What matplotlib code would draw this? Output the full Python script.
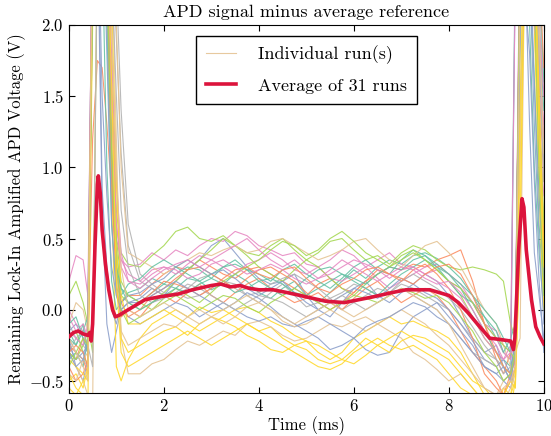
"""
APD signal minus average reference: 31 individual runs plus their average.
"""

import numpy as np
import matplotlib
matplotlib.use("Agg")
import matplotlib.pyplot as plt


# time grid (ms), split into pieces so every run row is easy to check
T_EARLY = [0.0, 0.15, 0.3, 0.4]
T_SPIKE1 = [0.5, 0.6, 0.7, 0.8, 0.9, 1.0, 1.1, 1.25]
T_MIDDLE = [1.5, 1.75, 2.0, 2.25, 2.5, 2.75, 3.0, 3.25, 3.5, 3.75,
            4.0, 4.25, 4.5, 4.75, 5.0, 5.25, 5.5, 5.75, 6.0, 6.25,
            6.5, 6.75, 7.0, 7.25, 7.5, 7.75, 8.0, 8.25, 8.5, 8.75]
T_SPIKE2 = [9.0, 9.15, 9.3, 9.4, 9.5, 9.6, 9.7, 9.8, 9.9, 10.0]

# individual runs (V), one row per run
RUNS_EARLY = [
    [-0.15, -0.25, -0.1, -0.3],
    [-0.3, -0.35, -0.2, -0.25],
    [-0.2, -0.4, -0.5, -0.35],
    [0.2, 0.38, 0.35, 0.1],
    [0.1, 0.2, 0.05, -0.1],
    [-0.45, -0.55, -0.6, -0.7],
    [-0.3, -0.4, -0.5, -0.6],
    [-0.1, -0.2, -0.25, -0.3],
    [-0.35, -0.3, -0.4, -0.2],
    [-0.25, -0.3, -0.35, -0.45],
    [-0.15, -0.1, -0.2, -0.3],
    [0.0, -0.1, -0.15, -0.2],
    [-0.2, -0.15, -0.3, -0.4],
    [-0.5, -0.45, -0.55, -0.4],
    [-0.1, 0.05, 0.0, -0.15],
    [-0.3, -0.2, -0.15, -0.25],
    [-0.2, -0.25, -0.15, -0.05],
    [-0.4, -0.5, -0.45, -0.35],
    [-0.25, -0.35, -0.3, -0.25],
    [-0.05, -0.15, -0.1, -0.2],
    [-0.3, -0.35, -0.25, -0.15],
    [-0.35, -0.4, -0.45, -0.5],
    [-0.45, -0.5, -0.35, -0.3],
    [-0.2, -0.3, -0.35, -0.4],
    [-0.1, -0.05, -0.2, -0.3],
    [-0.3, -0.25, -0.3, -0.4],
    [-0.3, -0.4, -0.35, -0.2],
    [-0.15, -0.2, -0.25, -0.1],
    [-0.4, -0.3, -0.2, -0.25],
    [-0.55, -0.6, -0.5, -0.45],
    [-0.2, -0.3, -0.4, -0.5],
]

RUNS_SPIKE1 = [
    [2.6, 3.0, 2.8, 2.2, 1.1, 0.4, 0.15, 0.1],
    [1.2, 1.75, 1.7, 1.3, 0.8, 0.3, 0.05, 0.1],
    [2.5, 2.8, 0.7, -0.1, -0.3, -0.15, 0.0, 0.05],
    [2.7, 3.0, 3.0, 2.4, 1.4, 0.6, 0.35, 0.3],
    [-0.3, 2.6, 3.0, 2.8, 1.6, 0.7, 0.4, 0.32],
    [2.6, 3.0, 2.9, 2.5, 0.8, -0.4, -0.5, -0.35],
    [-0.7, 2.8, 3.0, 3.0, 2.5, 1.2, -0.2, -0.45],
    [2.4, 3.0, 3.0, 3.0, 2.6, 1.9, 1.1, 0.45],
    [2.2, 3.0, 2.6, 1.0, 0.2, 0.0, 0.05, 0.12],
    [2.8, 3.0, 3.0, 2.4, 0.9, 0.2, -0.05, 0.0],
    [2.5, 3.0, 1.5, 0.8, 0.3, 0.1, 0.0, -0.05],
    [2.9, 3.0, 3.0, 2.2, 1.0, 0.5, 0.35, 0.25],
    [2.5, 3.0, 3.0, 2.7, 1.5, 0.4, 0.1, 0.05],
    [2.0, 3.0, 3.0, 2.8, 2.0, 0.5, -0.2, -0.3],
    [2.7, 3.0, 3.0, 3.0, 2.8, 2.0, 1.0, 0.4],
    [-0.4, 2.5, 3.0, 3.0, 2.8, 2.3, 1.4, 0.6],
    [2.8, 3.0, 3.0, 2.0, 0.6, 0.15, 0.1, 0.18],
    [2.6, 3.0, 3.0, 2.6, 1.2, 0.3, 0.05, -0.05],
    [2.4, 3.0, 0.85, 0.3, 0.0, -0.1, 0.05, 0.1],
    [2.6, 3.0, 3.0, 2.6, 1.8, 0.9, 0.4, 0.2],
    [2.5, 3.0, 3.0, 2.3, 1.2, 0.5, 0.2, 0.1],
    [2.3, 3.0, 3.0, 2.9, 2.2, 0.9, 0.1, -0.1],
    [2.6, 3.0, 3.0, 2.6, 1.4, 0.3, -0.15, -0.25],
    [2.5, 3.0, 3.0, 3.0, 2.4, 1.5, 0.7, 0.3],
    [2.2, 3.0, 3.0, 2.5, 1.0, 0.3, 0.15, 0.05],
    [2.7, 3.0, 3.0, 2.5, 1.0, 0.15, -0.05, 0.0],
    [2.6, 3.0, 3.0, 1.8, 0.6, 0.1, 0.0, 0.05],
    [2.9, 3.0, 3.0, 2.6, 1.5, 0.6, 0.3, 0.2],
    [2.4, 3.0, 3.0, 2.4, 1.1, 0.3, 0.0, -0.1],
    [2.5, 3.0, 3.0, 2.7, 1.6, 0.2, -0.3, -0.4],
    [2.8, 3.0, 3.0, 2.8, 2.0, 1.0, 0.3, 0.0],
]

RUNS_MIDDLE = [
    [0.05, 0.12, 0.18, 0.15, 0.22, 0.2, 0.14, 0.18, 0.25, 0.2, 0.12, 0.08, 0.15, 0.2, 0.1,
     0.05, 0.12, 0.2, 0.28, 0.22, 0.3, 0.35, 0.32, 0.38, 0.4, 0.36, 0.3, 0.22, 0.1, -0.05],
    [0.1, 0.18, 0.25, 0.3, 0.28, 0.35, 0.3, 0.25, 0.22, 0.28, 0.3, 0.25, 0.2, 0.15, 0.1,
     0.18, 0.22, 0.15, 0.12, 0.2, 0.25, 0.3, 0.28, 0.32, 0.3, 0.35, 0.38, 0.42, 0.2, -0.1],
    [0.08, 0.15, 0.1, 0.2, 0.28, 0.35, 0.45, 0.5, 0.4, 0.3, 0.22, 0.18, 0.2, 0.25, 0.1,
     0.0, -0.05, 0.05, 0.15, 0.2, 0.1, 0.05, 0.12, 0.18, 0.25, 0.2, 0.1, -0.05, -0.2, -0.3],
    [0.32, 0.4, 0.35, 0.42, 0.38, 0.45, 0.5, 0.48, 0.55, 0.52, 0.45, 0.42, 0.38, 0.4, 0.32,
     0.3, 0.35, 0.42, 0.38, 0.3, 0.35, 0.4, 0.32, 0.3, 0.25, 0.28, 0.2, 0.15, 0.05, -0.1],
    [0.3, 0.38, 0.45, 0.55, 0.58, 0.5, 0.48, 0.52, 0.45, 0.4, 0.38, 0.45, 0.5, 0.42, 0.35,
     0.4, 0.48, 0.5, 0.42, 0.35, 0.38, 0.32, 0.4, 0.45, 0.42, 0.35, 0.3, 0.28, 0.3, 0.28],
    [-0.2, -0.1, -0.05, 0.0, -0.05, 0.02, -0.02, 0.0, -0.05, -0.1, -0.15, -0.12, -0.2, -0.25, -0.22,
     -0.3, -0.35, -0.3, -0.2, -0.15, -0.1, -0.05, -0.1, -0.08, -0.12, -0.15, -0.2, -0.3, -0.45, -0.6],
    [-0.45, -0.38, -0.35, -0.28, -0.22, -0.25, -0.2, -0.15, -0.18, -0.1, -0.08, -0.12, -0.18, -0.22, -0.2,
     -0.15, -0.1, -0.12, -0.08, -0.05, -0.1, -0.15, -0.2, -0.3, -0.35, -0.42, -0.5, -0.45, -0.55, -0.65],
    [0.2, 0.15, 0.1, 0.12, 0.08, 0.1, 0.15, 0.2, 0.18, 0.1, 0.05, 0.12, 0.18, 0.1, 0.02,
     0.05, 0.08, 0.0, 0.05, 0.1, 0.15, 0.12, 0.18, 0.15, 0.1, 0.05, 0.0, -0.1, -0.2, -0.3],
    [0.15, 0.22, 0.18, 0.25, 0.3, 0.28, 0.22, 0.3, 0.35, 0.28, 0.25, 0.2, 0.28, 0.32, 0.25,
     0.2, 0.15, 0.22, 0.3, 0.35, 0.28, 0.25, 0.35, 0.42, 0.38, 0.3, 0.25, 0.15, 0.0, -0.15],
    [-0.05, 0.05, 0.1, 0.05, 0.12, 0.18, 0.1, 0.05, 0.12, 0.18, 0.22, 0.15, 0.1, 0.05, 0.08,
     0.12, 0.05, 0.0, 0.08, 0.15, 0.2, 0.12, 0.05, 0.1, 0.15, 0.1, 0.0, -0.15, -0.3, -0.4],
    [-0.1, -0.05, 0.0, 0.05, 0.02, -0.05, 0.0, 0.05, 0.0, -0.05, -0.08, -0.05, -0.1, -0.12, -0.08,
     -0.05, -0.1, -0.15, -0.2, -0.28, -0.32, -0.3, -0.15, -0.05, 0.0, 0.05, -0.05, -0.15, -0.25, -0.4],
    [0.2, 0.28, 0.3, 0.25, 0.32, 0.38, 0.35, 0.3, 0.25, 0.32, 0.35, 0.4, 0.35, 0.28, 0.25,
     0.3, 0.22, 0.2, 0.25, 0.3, 0.22, 0.15, 0.2, 0.25, 0.3, 0.32, 0.25, 0.18, 0.05, -0.1],
    [0.0, 0.05, 0.12, 0.2, 0.28, 0.35, 0.42, 0.5, 0.45, 0.38, 0.3, 0.25, 0.2, 0.28, 0.35,
     0.3, 0.22, 0.15, 0.1, 0.18, 0.25, 0.3, 0.38, 0.42, 0.35, 0.28, 0.2, 0.1, -0.05, -0.2],
    [-0.25, -0.2, -0.15, -0.12, -0.18, -0.1, -0.05, -0.08, -0.12, -0.18, -0.22, -0.28, -0.3, -0.25, -0.28,
     -0.35, -0.38, -0.35, -0.28, -0.2, -0.25, -0.3, -0.22, -0.18, -0.2, -0.25, -0.3, -0.4, -0.5, -0.55],
    [0.35, 0.3, 0.25, 0.3, 0.35, 0.4, 0.38, 0.42, 0.45, 0.4, 0.42, 0.48, 0.5, 0.45, 0.4,
     0.35, 0.38, 0.42, 0.48, 0.5, 0.42, 0.35, 0.3, 0.38, 0.45, 0.48, 0.4, 0.3, 0.15, 0.0],
    [0.25, 0.18, 0.12, 0.1, 0.15, 0.22, 0.25, 0.2, 0.15, 0.1, 0.12, 0.18, 0.22, 0.25, 0.2,
     0.15, 0.08, 0.12, 0.18, 0.15, 0.1, 0.12, 0.2, 0.25, 0.2, 0.15, 0.08, 0.0, -0.12, -0.25],
    [0.22, 0.3, 0.35, 0.3, 0.25, 0.2, 0.25, 0.3, 0.32, 0.28, 0.2, 0.15, 0.1, 0.15, 0.22,
     0.28, 0.3, 0.25, 0.2, 0.15, 0.1, 0.18, 0.25, 0.3, 0.35, 0.3, 0.2, 0.1, 0.05, -0.05],
    [0.0, 0.1, 0.15, 0.22, 0.28, 0.3, 0.25, 0.2, 0.15, 0.22, 0.28, 0.3, 0.25, 0.2, 0.12,
     0.05, 0.0, 0.05, 0.12, 0.2, 0.28, 0.25, 0.2, 0.28, 0.32, 0.25, 0.15, 0.0, -0.2, -0.45],
    [0.12, 0.18, 0.22, 0.3, 0.35, 0.3, 0.25, 0.28, 0.22, 0.15, 0.1, 0.15, 0.2, 0.12, 0.05,
     0.0, 0.05, 0.1, 0.15, 0.12, 0.08, 0.15, 0.22, 0.18, 0.12, 0.08, 0.0, -0.1, -0.22, -0.35],
    [0.15, 0.22, 0.28, 0.32, 0.35, 0.3, 0.35, 0.4, 0.45, 0.5, 0.42, 0.35, 0.3, 0.35, 0.28,
     0.22, 0.25, 0.3, 0.35, 0.32, 0.28, 0.22, 0.28, 0.3, 0.25, 0.2, 0.15, 0.08, -0.05, -0.2],
    [0.05, 0.0, 0.08, 0.15, 0.1, 0.05, 0.12, 0.2, 0.25, 0.3, 0.35, 0.42, 0.48, 0.45, 0.38,
     0.42, 0.5, 0.55, 0.48, 0.4, 0.35, 0.3, 0.35, 0.4, 0.35, 0.28, 0.2, 0.15, 0.05, -0.1],
    [-0.1, -0.05, 0.0, -0.05, -0.1, -0.15, -0.1, -0.05, 0.0, 0.02, -0.02, -0.08, -0.12, -0.18, -0.22,
     -0.25, -0.3, -0.35, -0.38, -0.32, -0.25, -0.2, -0.15, -0.2, -0.25, -0.3, -0.35, -0.45, -0.55, -0.65],
    [-0.2, -0.15, -0.1, -0.12, -0.05, 0.0, -0.05, -0.1, -0.05, 0.02, 0.05, 0.0, -0.08, -0.12, -0.1,
     -0.05, 0.0, -0.05, -0.1, -0.15, -0.1, -0.05, 0.0, -0.05, -0.1, -0.18, -0.25, -0.35, -0.45, -0.55],
    [0.1, 0.05, 0.08, 0.12, 0.18, 0.15, 0.1, 0.05, 0.0, 0.05, 0.1, 0.08, 0.05, 0.0, -0.05,
     0.0, 0.05, 0.1, 0.05, 0.0, 0.05, 0.1, 0.15, 0.1, 0.05, 0.0, -0.1, -0.2, -0.3, -0.35],
    [0.0, 0.05, 0.1, 0.15, 0.12, 0.18, 0.22, 0.18, 0.12, 0.15, 0.2, 0.22, 0.18, 0.12, 0.1,
     0.15, 0.2, 0.25, 0.22, 0.18, 0.25, 0.3, 0.28, 0.35, 0.38, 0.32, 0.25, 0.18, 0.1, 0.0],
    [0.05, 0.12, 0.2, 0.18, 0.15, 0.1, 0.15, 0.22, 0.28, 0.3, 0.25, 0.22, 0.28, 0.3, 0.22,
     0.15, 0.12, 0.18, 0.22, 0.28, 0.3, 0.25, 0.22, 0.18, 0.25, 0.3, 0.32, 0.25, 0.1, -0.1],
    [0.05, 0.1, 0.15, 0.2, 0.15, 0.1, 0.05, 0.0, 0.05, 0.12, 0.08, 0.02, -0.05, -0.1, -0.15,
     -0.2, -0.28, -0.25, -0.2, -0.12, -0.08, -0.05, 0.0, 0.05, 0.02, -0.05, -0.1, -0.2, -0.3, -0.4],
    [0.18, 0.25, 0.3, 0.28, 0.22, 0.25, 0.32, 0.35, 0.3, 0.25, 0.28, 0.32, 0.28, 0.22, 0.18,
     0.22, 0.28, 0.35, 0.3, 0.25, 0.2, 0.25, 0.3, 0.28, 0.22, 0.18, 0.2, 0.12, 0.0, -0.15],
    [-0.05, 0.0, 0.05, 0.1, 0.05, 0.0, 0.05, 0.1, 0.08, 0.02, -0.02, 0.05, 0.1, 0.15, 0.1,
     0.05, 0.0, 0.05, 0.1, 0.08, 0.05, 0.1, 0.15, 0.12, 0.08, 0.1, 0.05, -0.05, -0.15, -0.3],
    [-0.35, -0.3, -0.25, -0.2, -0.15, -0.2, -0.25, -0.2, -0.15, -0.1, -0.15, -0.2, -0.25, -0.3, -0.35,
     -0.4, -0.42, -0.38, -0.3, -0.25, -0.2, -0.25, -0.28, -0.25, -0.3, -0.35, -0.45, -0.55, -0.6, -0.7],
    [-0.05, 0.0, 0.05, 0.0, -0.05, -0.1, -0.05, 0.0, 0.05, 0.1, 0.05, 0.0, -0.05, -0.1, -0.05,
     0.0, 0.05, 0.0, -0.05, 0.0, 0.05, 0.1, 0.15, 0.1, 0.05, 0.0, -0.1, -0.25, -0.4, -0.55],
]

RUNS_SPIKE2 = [
    [-0.2, -0.3, -0.35, 2.5, 3.0, 2.8, 2.3, 1.6, 0.6, 0.1],
    [-0.35, -0.45, -0.3, -0.2, 2.6, 3.0, 2.8, 2.0, 1.2, 0.5],
    [-0.25, -0.4, -0.5, 2.4, 2.8, 2.5, 1.3, 0.4, 0.1, -0.2],
    [-0.15, -0.25, -0.3, -0.4, 2.5, 3.0, 3.0, 2.4, 1.3, 0.8],
    [0.25, 0.2, -0.1, -0.2, 2.4, 3.0, 2.8, 2.2, 1.1, 0.4],
    [-0.7, -0.55, -0.6, -0.5, 0.4, 3.0, 3.0, 2.6, 1.0, 0.2],
    [-0.6, -0.5, -0.45, -0.3, -0.2, 2.6, 3.0, 2.8, 1.9, 1.2],
    [-0.35, -0.45, -0.4, -0.3, 2.0, 2.8, 3.0, 3.0, 2.2, 1.5],
    [-0.3, -0.35, -0.4, -0.25, 2.6, 2.9, 2.0, 1.0, 0.4, 0.0],
    [-0.5, -0.6, -0.45, -0.3, 2.2, 3.0, 3.0, 2.5, 1.6, 0.9],
    [-0.45, -0.5, -0.55, -0.4, 1.5, 2.2, 1.8, 0.9, 0.2, -0.3],
    [-0.2, -0.3, -0.35, -0.2, 2.8, 3.0, 2.7, 2.2, 1.8, 1.3],
    [-0.3, -0.4, -0.45, -0.3, 2.6, 3.0, 3.0, 2.4, 1.2, 0.3],
    [-0.65, -0.7, -0.6, -0.4, 1.0, 2.8, 3.0, 2.0, 0.8, 0.0],
    [-0.1, -0.25, -0.4, -0.55, 1.8, 3.0, 3.0, 2.5, 1.5, 0.6],
    [-0.35, -0.4, -0.5, -0.3, 2.2, 3.0, 3.0, 2.8, 2.0, 1.0],
    [-0.15, -0.3, -0.2, -0.1, 2.0, 3.0, 3.0, 3.0, 2.4, 1.6],
    [-0.55, -0.6, -0.5, -0.4, 2.3, 3.0, 3.0, 2.6, 1.4, 0.5],
    [-0.4, -0.35, -0.45, -0.2, 2.5, 3.0, 2.4, 1.3, 0.5, -0.1],
    [-0.3, -0.35, -0.25, 2.3, 3.0, 3.0, 2.6, 2.0, 1.7, 1.2],
    [-0.2, -0.25, -0.3, -0.35, 2.7, 3.0, 3.0, 2.5, 1.4, 0.6],
    [-0.7, -0.6, -0.5, -0.55, 0.5, 2.5, 3.0, 2.8, 1.5, 0.4],
    [-0.6, -0.65, -0.55, -0.45, 1.2, 3.0, 3.0, 2.4, 1.1, 0.2],
    [-0.4, -0.5, -0.45, -0.35, 2.0, 3.0, 3.0, 2.6, 1.8, 0.9],
    [-0.1, -0.2, -0.3, -0.2, 2.4, 3.0, 3.0, 2.7, 2.0, 1.4],
    [-0.3, -0.4, -0.45, -0.35, 2.4, 3.0, 3.0, 3.0, 2.4, 1.7],
    [-0.45, -0.4, -0.5, -0.3, 2.0, 3.0, 2.6, 1.6, 0.8, 0.2],
    [-0.25, -0.35, -0.3, -0.2, 2.8, 3.0, 3.0, 2.6, 2.0, 1.5],
    [-0.4, -0.5, -0.45, -0.3, 2.6, 3.0, 3.0, 2.2, 1.0, 0.1],
    [-0.65, -0.6, -0.7, -0.5, 1.4, 3.0, 3.0, 2.6, 1.2, 0.3],
    [-0.6, -0.55, -0.5, -0.4, 2.2, 3.0, 3.0, 2.8, 2.0, 1.1],
]

# average of the 31 runs
AVG_T = [0.0, 0.1, 0.2, 0.3, 0.4, 0.44, 0.47, 0.5, 0.55, 0.6, 0.62, 0.66, 0.7, 0.77,
         0.84, 0.92, 0.98, 1.05, 1.2, 1.4, 1.6, 1.9, 2.3, 2.6, 3.0, 3.2, 3.4, 3.6,
         3.8, 4.0, 4.3, 4.6, 5.0, 5.4, 5.8, 6.1, 6.4, 6.8, 7.1, 7.4, 7.6, 7.8, 8.0,
         8.2, 8.4, 8.6, 8.86, 9.1, 9.3, 9.36, 9.39, 9.47, 9.54, 9.58, 9.63, 9.74,
         9.83, 9.92, 10.0]
AVG_V = [-0.19, -0.16, -0.15, -0.17, -0.18, -0.16, -0.22, -0.1, 0.45, 0.88, 0.94, 0.82,
         0.56, 0.32, 0.14, 0.0, -0.05, -0.04, -0.01, 0.03, 0.07, 0.09, 0.11, 0.14,
         0.17, 0.18, 0.16, 0.17, 0.15, 0.14, 0.14, 0.12, 0.09, 0.06, 0.05, 0.07, 0.09,
         0.12, 0.14, 0.14, 0.14, 0.12, 0.1, 0.05, -0.02, -0.1, -0.2, -0.21, -0.22,
         -0.28, -0.2, 0.42, 0.78, 0.72, 0.42, 0.07, -0.12, -0.19, -0.24]

RUN_COLORS = ["#66c2a5", "#fc8d62", "#8da0cb", "#e78ac3",
              "#a6d854", "#ffd92f", "#e5c494", "#b3b3b3"]
AVG_COLOR = "crimson"


def main() -> None:
    plt.rcParams["font.family"] = ["cmr10", "DejaVu Serif"]
    plt.rcParams["mathtext.fontset"] = "cm"
    plt.rcParams["axes.formatter.use_mathtext"] = True
    plt.rcParams["axes.unicode_minus"] = True
    plt.rcParams["xtick.direction"] = "in"
    plt.rcParams["ytick.direction"] = "in"
    plt.rcParams["xtick.top"] = True
    plt.rcParams["ytick.right"] = True
    plt.rcParams["xtick.major.size"] = 4
    plt.rcParams["ytick.major.size"] = 4
    plt.rcParams["font.size"] = 12

    t = np.array(T_EARLY + T_SPIKE1 + T_MIDDLE + T_SPIKE2)
    runs = np.hstack([np.array(RUNS_EARLY), np.array(RUNS_SPIKE1),
                      np.array(RUNS_MIDDLE), np.array(RUNS_SPIKE2)])
    n_runs = len(runs)

    fig = plt.figure(figsize=(5.51, 4.36), dpi=100)
    ax = fig.add_axes([0.125, 0.0986, 0.862, 0.8442])

    for i, y in enumerate(runs):
        label = "Individual run(s)" if i == n_runs - 1 else None
        ax.plot(t, y, color=RUN_COLORS[i % len(RUN_COLORS)], lw=0.8,
                alpha=0.9, label=label)

    ax.plot(AVG_T, AVG_V, color=AVG_COLOR, lw=2.6,
            label=f"Average of {n_runs} runs", zorder=5)

    ax.set_xlim(0, 10)
    ax.set_ylim(-0.585, 2.0)
    ax.set_xticks([0, 2, 4, 6, 8, 10])
    ax.set_yticks([-0.5, 0.0, 0.5, 1.0, 1.5, 2.0])
    ax.set_xlabel("Time (ms)", labelpad=2)
    ax.set_ylabel("Remaining Lock-In Amplified APD Voltage (V)", labelpad=2)
    ax.set_title("APD signal minus average reference", fontsize=13)

    leg = ax.legend(loc="upper center", fontsize=13, fancybox=False,
                    framealpha=1.0, edgecolor="black", borderaxespad=0.6,
                    labelspacing=0.75, handlelength=1.7, handletextpad=1.2,
                    borderpad=0.55)
    leg.get_frame().set_linewidth(1.0)

    fig.savefig("out.png", dpi=100)
    plt.close(fig)


if __name__ == "__main__":
    main()
